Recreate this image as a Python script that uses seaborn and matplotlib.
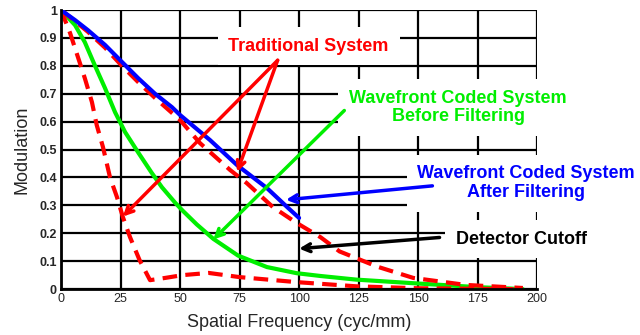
import numpy as np
import pandas as pd
import matplotlib
matplotlib.use("Agg")
import matplotlib.pyplot as plt
import seaborn as sns

# MTF curves
blue_f = [0, 5.9, 11.3, 18.5, 25.6, 32.4, 39.5, 46.6, 50, 62.6, 74, 86.5, 95, 100]
blue_m = [1.0, 0.964, 0.928, 0.875, 0.814, 0.756, 0.70, 0.652, 0.624, 0.534, 0.444, 0.362, 0.294, 0.255]

red_upper_f = [0, 5.9, 11.3, 18.5, 25.6, 32.4, 39.5, 50, 58.4, 71, 78, 89, 99, 109, 117, 133, 148, 170, 194]
red_upper_m = [1.0, 0.96, 0.922, 0.865, 0.80, 0.742, 0.685, 0.606, 0.523, 0.427, 0.38, 0.294, 0.237, 0.186,
               0.135, 0.08, 0.04, 0.015, 0.004]

red_lower_f = [0, 3.8, 10, 13, 15, 17.6, 20.6, 23.5, 26, 29, 33, 37.4, 43.7, 51, 62, 75, 99, 124, 150, 190]
red_lower_m = [1.0, 0.918, 0.756, 0.67, 0.588, 0.51, 0.40, 0.33, 0.258, 0.186, 0.104, 0.032, 0.04, 0.05,
               0.058, 0.043, 0.025, 0.01, 0.003, 0.0]

green_f = [0, 5.9, 10, 14.3, 18.5, 22.7, 26.9, 32.4, 38, 42.4, 47.9, 51, 57, 64, 74.4, 86.5, 99, 109,
           124, 150, 175, 194]
green_m = [1.0, 0.946, 0.885, 0.80, 0.72, 0.634, 0.563, 0.49, 0.418, 0.365, 0.31, 0.282, 0.232, 0.18,
           0.12, 0.079, 0.057, 0.047, 0.034, 0.02, 0.007, 0.0]

x_ticks = [0, 25, 50, 75, 100, 125, 150, 175, 200]
y_ticks = [0, 0.1, 0.2, 0.3, 0.4, 0.5, 0.6, 0.7, 0.8, 0.9, 1.0]
y_labels = ["0", "0.1", "0.2", "0.3", "0.4", "0.5", "0.6", "0.7", "0.8", "0.9", "1"]

RED = "#ff0000"
GREEN = "#00ee00"
BLUE = "#0000ff"

sns.set_style("white")
plt.rcParams["font.family"] = ["Liberation Sans", "DejaVu Sans"]

fig = plt.figure(figsize=(6.4, 3.35), dpi=100)
ax = fig.add_axes([0.0953, 0.137, 0.744, 0.833])

sns.lineplot(x=green_f, y=green_m, color=GREEN, lw=3, ax=ax)
sns.lineplot(x=red_lower_f, y=red_lower_m, color=RED, lw=3, ax=ax).lines[-1].set_dashes((3.5, 2))
sns.lineplot(x=red_upper_f, y=red_upper_m, color=RED, lw=3, ax=ax).lines[-1].set_dashes((3.5, 2))
sns.lineplot(x=blue_f, y=blue_m, color=BLUE, lw=3, ax=ax)

ax.set_xlim(0, 200)
ax.set_ylim(0, 1)
ax.set_xticks(x_ticks)
ax.set_xticklabels([str(t) for t in x_ticks], fontsize=9)
ax.set_yticks(y_ticks)
ax.set_yticklabels(y_labels, fontsize=9, fontweight="bold")
ax.tick_params(length=0, pad=3)
ax.grid(True, color="black", lw=1.6)
ax.set_axisbelow(True)
for side in ["top", "right"]:
    ax.spines[side].set_visible(False)
for side in ["left", "bottom"]:
    ax.spines[side].set_color("black")
    ax.spines[side].set_linewidth(2)

ax.set_xlabel("Spatial Frequency (cyc/mm)", fontsize=13, labelpad=6)
ax.set_ylabel("Modulation", fontsize=13, labelpad=6)

box = dict(boxstyle="square,pad=0.6", fc="white", ec="none")
arrow_kw = dict(arrowstyle="->", lw=2.5, shrinkA=0, shrinkB=0, mutation_scale=14)

# labels
ax.text(104, 0.871, "Traditional System", color=RED, fontsize=13, fontweight="bold",
        ha="center", va="center", bbox=box, zorder=3)
ax.text(166.8, 0.652, "Wavefront Coded System\nBefore Filtering", color=GREEN, fontsize=13,
        fontweight="bold", ha="center", va="center", linespacing=1.1, bbox=box, zorder=3)
ax.text(195.4, 0.38, "Wavefront Coded System\nAfter Filtering", color=BLUE, fontsize=13,
        fontweight="bold", ha="center", va="center", linespacing=1.1, bbox=box, zorder=3)
ax.text(193.3, 0.179, "Detector Cutoff", color="black", fontsize=13, fontweight="bold",
        ha="center", va="center", bbox=box, zorder=3)

# arrows
ax.annotate("", xy=(26, 0.26), xytext=(91, 0.82), arrowprops=dict(color=RED, **arrow_kw), zorder=4)
ax.annotate("", xy=(74, 0.42), xytext=(91, 0.82), arrowprops=dict(color=RED, **arrow_kw), zorder=4)
ax.annotate("", xy=(64, 0.178), xytext=(119, 0.64), arrowprops=dict(color=GREEN, **arrow_kw), zorder=4)
ax.annotate("", xy=(94.5, 0.32), xytext=(156, 0.37), arrowprops=dict(color=BLUE, **arrow_kw), zorder=4)
ax.annotate("", xy=(100, 0.145), xytext=(159, 0.185), arrowprops=dict(color="black", **arrow_kw), zorder=4)

fig.savefig("out.png", dpi=100)
